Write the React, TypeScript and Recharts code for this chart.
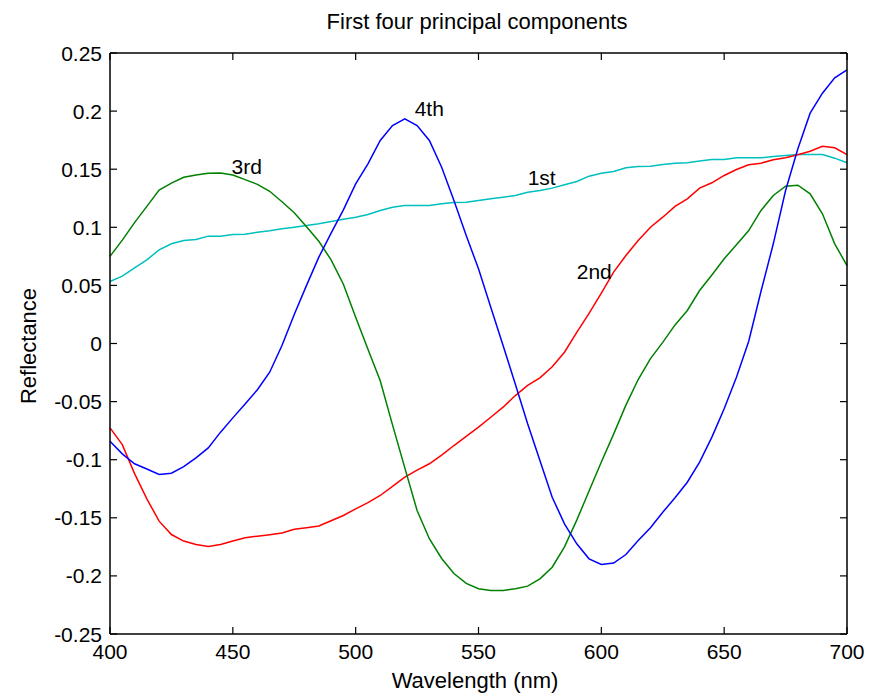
import { LineChart, Line, XAxis, YAxis, ReferenceDot, Customized } from 'recharts';

const wavelengths = [
  400, 405, 410, 415, 420, 425, 430, 435, 440, 445,
  450, 455, 460, 465, 470, 475, 480, 485, 490, 495,
  500, 505, 510, 515, 520, 525, 530, 535, 540, 545,
  550, 555, 560, 565, 570, 575, 580, 585, 590, 595,
  600, 605, 610, 615, 620, 625, 630, 635, 640, 645,
  650, 655, 660, 665, 670, 675, 680, 685, 690, 695,
  700,
];

// 1st component (cyan)
const first = [
  0.0534, 0.058, 0.065, 0.072, 0.0806, 0.0858, 0.0886, 0.0895, 0.0924, 0.0924,
  0.0938, 0.094, 0.0958, 0.097, 0.0987, 0.1, 0.1015, 0.103, 0.105, 0.107,
  0.1087, 0.111, 0.1145, 0.1173, 0.1188, 0.1188, 0.1188, 0.1202, 0.1213, 0.1216,
  0.123, 0.1245, 0.1259, 0.1274, 0.1302, 0.1317, 0.1337, 0.1366, 0.1394, 0.144,
  0.1466, 0.148, 0.1512, 0.1523, 0.1526, 0.154, 0.1552, 0.1555, 0.157, 0.1583,
  0.1583, 0.1598, 0.1598, 0.1598, 0.161, 0.1618, 0.1626, 0.1626, 0.1626, 0.1595,
  0.1555,
];

// 2nd component (red)
const second = [
  -0.0726, -0.087, -0.112, -0.1337, -0.1529, -0.1644, -0.17, -0.173, -0.1747, -0.173,
  -0.17, -0.1672, -0.1658, -0.1645, -0.163, -0.1598, -0.1585, -0.157, -0.1525, -0.148,
  -0.1423, -0.137, -0.1308, -0.123, -0.115, -0.109, -0.1035, -0.096, -0.0878, -0.08,
  -0.072, -0.0635, -0.0548, -0.0448, -0.0361, -0.0295, -0.02, -0.0075, 0.0095, 0.026,
  0.0433, 0.0614, 0.0757, 0.0886, 0.1001, 0.1087, 0.118, 0.1245, 0.1337, 0.1383,
  0.1446, 0.1497, 0.1538, 0.1552, 0.1581, 0.1598, 0.1624, 0.1655, 0.1698, 0.1684,
  0.1626,
];

// 3rd component (green)
const third = [
  0.075, 0.089, 0.104, 0.118, 0.132, 0.138, 0.143, 0.145, 0.1465, 0.1467,
  0.145, 0.141, 0.137, 0.131, 0.122, 0.1125, 0.1005, 0.088, 0.072, 0.051,
  0.0226, -0.005, -0.032, -0.07, -0.107, -0.1437, -0.168, -0.185, -0.198, -0.2065,
  -0.211, -0.2125, -0.2125, -0.211, -0.2088, -0.2025, -0.1925, -0.175, -0.152, -0.127,
  -0.102, -0.078, -0.053, -0.031, -0.013, 0.001, 0.016, 0.0284, 0.0456, 0.059,
  0.0729, 0.085, 0.0972, 0.1145, 0.1274, 0.1354, 0.1362, 0.1288, 0.1116, 0.0858,
  0.067,
];

// 4th component (blue)
const fourth = [
  -0.0841, -0.095, -0.1035, -0.108, -0.1127, -0.1116, -0.106, -0.0984, -0.0898, -0.0763,
  -0.064, -0.052, -0.0398, -0.0247, -0.0017, 0.025, 0.05, 0.0743, 0.095, 0.115,
  0.1374, 0.1546, 0.1747, 0.1876, 0.1934, 0.1876, 0.1747, 0.1517, 0.123, 0.0929,
  0.0643, 0.0312, -0.0017, -0.035, -0.0691, -0.1007, -0.1323, -0.1552, -0.1724, -0.1853,
  -0.1902, -0.189, -0.1816, -0.1695, -0.1586, -0.1452, -0.1328, -0.1194, -0.1021, -0.0806,
  -0.0562, -0.029, 0.002, 0.045, 0.0858, 0.1317, 0.1676, 0.1982, 0.2154, 0.2287,
  0.2355,
];

const xTicks = [400, 450, 500, 550, 600, 650, 700];
const yTicks = [-0.25, -0.2, -0.15, -0.1, -0.05, 0, 0.05, 0.1, 0.15, 0.2, 0.25];

const labels = [
  { text: '4th', x: 524, y: 0.2025 },
  { text: '3rd', x: 449.5, y: 0.1525 },
  { text: '1st', x: 570, y: 0.1425 },
  { text: '2nd', x: 590, y: 0.062 },
];

const data = wavelengths.map((w, i) => ({
  w,
  first: first[i],
  second: second[i],
  third: third[i],
  fourth: fourth[i],
}));

const FONT = '"Liberation Sans", Arial, Helvetica, sans-serif';
const TICK_LEN = 7;

const fmtY = (v: number) => String(Number(v.toFixed(2)));

function InTick(props: any) {
  const { x, y, payload, side } = props;
  const v = payload.value;
  if (side === 'bottom') {
    return (
      <g>
        <line x1={x} y1={y} x2={x} y2={y - TICK_LEN} stroke="#000" strokeWidth={1.2} />
        <text x={x} y={y + 25} textAnchor="middle" fontFamily={FONT} fontSize={21} fill="#000">
          {v}
        </text>
      </g>
    );
  }
  if (side === 'top') {
    return <line x1={x} y1={y} x2={x} y2={y + TICK_LEN} stroke="#000" strokeWidth={1.2} />;
  }
  if (side === 'left') {
    return (
      <g>
        <line x1={x} y1={y} x2={x + TICK_LEN} y2={y} stroke="#000" strokeWidth={1.2} />
        <text x={x - 8} y={y} dy="0.36em" textAnchor="end" fontFamily={FONT} fontSize={21} fill="#000">
          {fmtY(v)}
        </text>
      </g>
    );
  }
  return <line x1={x} y1={y} x2={x - TICK_LEN} y2={y} stroke="#000" strokeWidth={1.2} />;
}

const axisLine = { stroke: '#000', strokeWidth: 1.5 };

export default function App() {
  return (
    <div style={{ position: 'absolute', left: 0, top: 0, width: 874, height: 696, background: '#fff' }}>
      <LineChart width={874} height={696} data={data} margin={{ top: 52, right: 26, bottom: 0, left: 0 }}>
        <XAxis
          dataKey="w"
          type="number"
          domain={[400, 700]}
          ticks={xTicks}
          height={62}
          tickSize={0}
          tickMargin={0}
          tickLine={false}
          axisLine={axisLine}
          tick={(p: any) => <InTick {...p} side="bottom" />}
        />
        <XAxis
          xAxisId="top"
          orientation="top"
          dataKey="w"
          type="number"
          domain={[400, 700]}
          ticks={xTicks}
          height={1}
          tickSize={0}
          tickMargin={0}
          tickLine={false}
          axisLine={axisLine}
          tick={(p: any) => <InTick {...p} side="top" />}
        />
        <YAxis
          type="number"
          domain={[-0.25, 0.25]}
          ticks={yTicks}
          width={110}
          tickSize={0}
          tickMargin={0}
          tickLine={false}
          axisLine={axisLine}
          allowDataOverflow
          tick={(p: any) => <InTick {...p} side="left" />}
        />
        <YAxis
          yAxisId="right"
          orientation="right"
          type="number"
          domain={[-0.25, 0.25]}
          ticks={yTicks}
          width={1}
          tickSize={0}
          tickMargin={0}
          tickLine={false}
          axisLine={axisLine}
          allowDataOverflow
          tick={(p: any) => <InTick {...p} side="right" />}
        />
        <Line dataKey="first" stroke="#00BFBF" strokeWidth={1.5} dot={false} isAnimationActive={false} />
        <Line dataKey="second" stroke="#FF0000" strokeWidth={1.5} dot={false} isAnimationActive={false} />
        <Line dataKey="third" stroke="#008000" strokeWidth={1.5} dot={false} isAnimationActive={false} />
        <Line dataKey="fourth" stroke="#0000FF" strokeWidth={1.5} dot={false} isAnimationActive={false} />
        {labels.map((l) => (
          <ReferenceDot
            key={l.text}
            x={l.x}
            y={l.y}
            r={0}
            shape={(p: any) => (
              <text x={p.cx} y={p.cy} dy="0.36em" fontFamily={FONT} fontSize={21} fill="#000">
                {l.text}
              </text>
            )}
          />
        ))}
        <Customized
          component={() => (
            <g fontFamily={FONT} fill="#000">
              <text x={477} y={29} textAnchor="middle" fontSize={22}>
                First four principal components
              </text>
              <text x={475} y={688} textAnchor="middle" fontSize={22}>
                Wavelength (nm)
              </text>
              <text x={36} y={346} textAnchor="middle" fontSize={22} transform="rotate(-90, 36, 346)">
                Reflectance
              </text>
            </g>
          )}
        />
      </LineChart>
    </div>
  );
}
